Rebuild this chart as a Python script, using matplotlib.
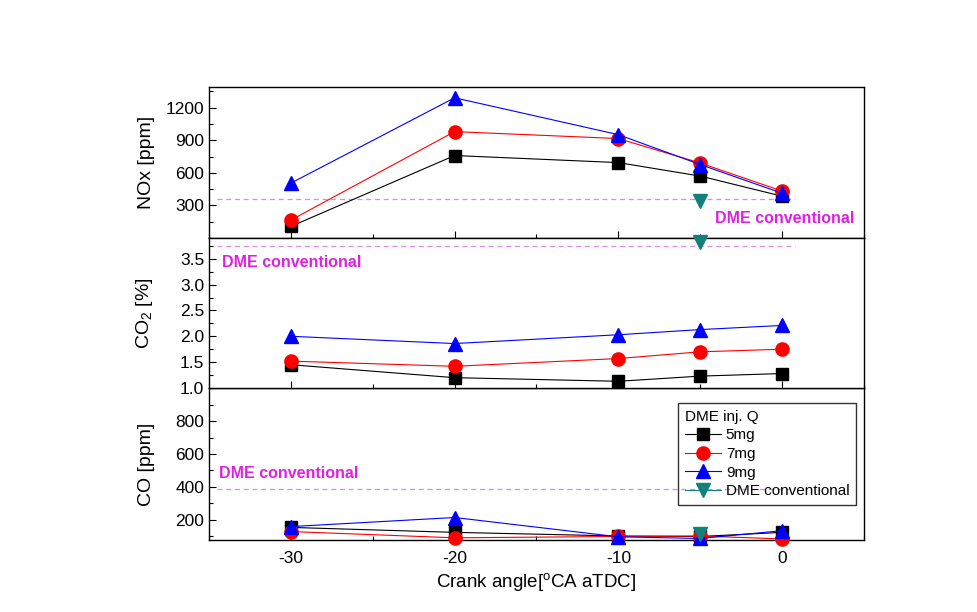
import matplotlib
matplotlib.use("Agg")
import matplotlib.pyplot as plt
from matplotlib.ticker import MultipleLocator

plt.rcParams['font.family'] = ['Liberation Sans', 'DejaVu Sans']
plt.rcParams['mathtext.fontset'] = 'custom'
plt.rcParams['mathtext.rm'] = 'Liberation Sans'
plt.rcParams['mathtext.it'] = 'Liberation Sans'
plt.rcParams['axes.unicode_minus'] = False

crank = [-30, -20, -10, -5, 0]
conv_x = [-5]

nox_5 = [107, 759, 694, 570, 385]
nox_7 = [165, 979, 915, 690, 432]
nox_9 = [505, 1290, 951, 676, 412]
nox_conv = [340]
nox_conv_line = 355

co2_5 = [1.45, 1.20, 1.13, 1.23, 1.28]
co2_7 = [1.52, 1.42, 1.57, 1.70, 1.75]
co2_9 = [2.00, 1.86, 2.03, 2.13, 2.21]
co2_conv = [3.82]
co2_conv_line = 3.74

co_5 = [155, 125, 103, 100, 125]
co_7 = [130, 92, 100, 103, 85]
co_9 = [160, 215, 98, 88, 135]
co_conv = [118]
co_conv_line = 390

labels = ['5mg', '7mg', '9mg', 'DME conventional']
legend_title = 'DME inj. Q'

fig = plt.figure(figsize=(9.78, 6.12), dpi=100)
L, W = 0.2137, 0.6697
ax1 = fig.add_axes([L, 0.611, W, 0.247])
ax2 = fig.add_axes([L, 0.366, W, 0.245])
ax3 = fig.add_axes([L, 0.118, W, 0.248])

styles = [dict(color='black', marker='s', ms=8.5),
          dict(color='red', marker='o', ms=9.5),
          dict(color='blue', marker='^', ms=10)]
conv_style = dict(color='#138080', marker='v', ms=10, linestyle='-')
dash_color = '#d58ee0'

def panel(ax, ys, conv, cline, ylim, major, minor, ylabel):
    for y, st, lab in zip(ys, styles, labels):
        ax.plot(crank, y, lw=0.8, label=lab, clip_on=False, zorder=3, **st)
    ax.plot(conv_x, conv, lw=0.8, label=labels[3], clip_on=False, zorder=4, **conv_style)
    ax.plot([-34.5, 0.8], [cline, cline], ls=(0, (4, 3)), lw=0.9, color=dash_color, zorder=2)
    ax.set_xlim(-35, 5)
    ax.set_ylim(*ylim)
    ax.xaxis.set_major_locator(MultipleLocator(10))
    ax.xaxis.set_minor_locator(MultipleLocator(5))
    ax.yaxis.set_major_locator(MultipleLocator(major))
    ax.yaxis.set_minor_locator(MultipleLocator(minor))
    ax.tick_params(which='both', direction='in', labelsize=12.5, length=5, width=0.8)
    ax.tick_params(which='minor', length=3)
    ax.set_ylabel(ylabel, fontsize=14)
    for s in ax.spines.values():
        s.set_linewidth(1.0)

panel(ax1, [nox_5, nox_7, nox_9], nox_conv, nox_conv_line, (0, 1390), 300, 150, 'NOx [ppm]')
panel(ax2, [co2_5, co2_7, co2_9], co2_conv, co2_conv_line, (1.0, 3.9), 0.5, 0.25, r'CO$_2$ [%]')
panel(ax3, [co_5, co_7, co_9], co_conv, co_conv_line, (80, 1000), 200, 100, 'CO [ppm]')

ax1.set_yticks([300, 600, 900, 1200])
ax3.set_yticks([200, 400, 600, 800])
ax1.tick_params(labelbottom=False)
ax2.tick_params(labelbottom=False)
ax1.set_zorder(1)
ax2.set_zorder(2)
ax3.set_zorder(0)

for ax in (ax1, ax2, ax3):
    ax.yaxis.set_label_coords(-0.083, 0.5)

txt = dict(color='#e020e0', fontsize=11.5, fontweight='bold')
ax1.text(-4.1, 177, 'DME conventional', ha='left', va='center', **txt)
ax2.text(-34.2, 3.43, 'DME conventional', ha='left', va='center', **txt)
ax3.text(-34.4, 480, 'DME conventional', ha='left', va='center', **txt)

ax3.set_xlabel(r'Crank angle[$^{\rm o}$CA aTDC]', fontsize=13.5)
ax3.tick_params(axis='x', pad=8)

leg = ax3.legend(title=legend_title, loc='upper right', bbox_to_anchor=(1.0, 0.952),
                 fontsize=11, title_fontsize=11, frameon=True, fancybox=False,
                 facecolor='none', edgecolor='black', handlelength=2.4, handletextpad=0.3,
                 labelspacing=0.3, borderpad=0.45, alignment='left')
leg.get_frame().set_linewidth(1.0)

fig.savefig('out.png', dpi=100)
